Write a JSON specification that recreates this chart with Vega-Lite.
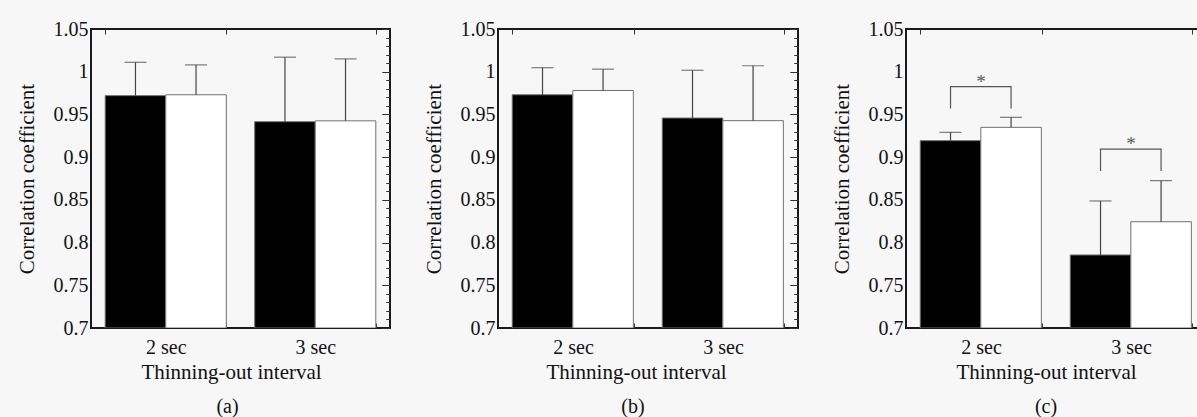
{
  "$schema": "https://vega.github.io/schema/vega-lite/v6.json",
  "background": "#f7f7f7",
  "padding": {"left": 15, "top": 18, "right": 0, "bottom": 0},
  "spacing": 30,
  "config": {
    "font": "Liberation Serif",
    "view": {"stroke": "#1a1a1a", "strokeWidth": 2, "fill": "#f7f7f7"},
    "axis": {"labelFont": "Liberation Serif", "titleFont": "Liberation Serif", "labelColor": "#111111", "titleColor": "#111111", "titleFontWeight": "normal", "labelFontSize": 20, "titleFontSize": 21, "domain": false, "grid": false, "tickColor": "#333333", "labelOverlap": false, "labelFlush": false, "labelBound": false},
    "title": {"font": "Liberation Serif", "fontSize": 20, "fontWeight": "normal", "color": "#111111"}
  },
  "datasets": {
    "bars": [
      {"panel": "a", "interval": "2 sec", "group": "G1", "mean": 0.972, "upper": 1.011},
      {"panel": "a", "interval": "2 sec", "group": "G2", "mean": 0.973, "upper": 1.008},
      {"panel": "a", "interval": "3 sec", "group": "G1", "mean": 0.9415, "upper": 1.017},
      {"panel": "a", "interval": "3 sec", "group": "G2", "mean": 0.9425, "upper": 1.015},
      {"panel": "b", "interval": "2 sec", "group": "G1", "mean": 0.973, "upper": 1.0047},
      {"panel": "b", "interval": "2 sec", "group": "G2", "mean": 0.978, "upper": 1.003},
      {"panel": "b", "interval": "3 sec", "group": "G1", "mean": 0.9458, "upper": 1.0017},
      {"panel": "b", "interval": "3 sec", "group": "G2", "mean": 0.9427, "upper": 1.007},
      {"panel": "c", "interval": "2 sec", "group": "G1", "mean": 0.9193, "upper": 0.929},
      {"panel": "c", "interval": "2 sec", "group": "G2", "mean": 0.9349, "upper": 0.9466},
      {"panel": "c", "interval": "3 sec", "group": "G1", "mean": 0.7855, "upper": 0.8487},
      {"panel": "c", "interval": "3 sec", "group": "G2", "mean": 0.8244, "upper": 0.8724}
    ],
    "brackets": [
      {"interval": "2 sec", "group": "G1", "y": 0.957, "k": 1},
      {"interval": "2 sec", "group": "G1", "y": 0.9825, "k": 2},
      {"interval": "2 sec", "group": "G2", "y": 0.9825, "k": 3},
      {"interval": "2 sec", "group": "G2", "y": 0.957, "k": 4},
      {"interval": "3 sec", "group": "G1", "y": 0.8838, "k": 1},
      {"interval": "3 sec", "group": "G1", "y": 0.9095, "k": 2},
      {"interval": "3 sec", "group": "G2", "y": 0.9095, "k": 3},
      {"interval": "3 sec", "group": "G2", "y": 0.8838, "k": 4}
    ],
    "stars": [
      {"interval": "2 sec", "y": 0.993, "label": "*"},
      {"interval": "3 sec", "y": 0.92, "label": "*"}
    ]
  },
  "hconcat": [
    {
      "width": 299, "height": 299,
      "title": {"text": "(a)", "orient": "bottom", "frame": "group", "dx": -13, "offset": 15},
      "resolve": {"axis": {"x": "independent", "y": "independent"}},
      "layer": [
        {
          "data": {"name": "bars"},
          "transform": [{"filter": "datum.panel === 'a'"}],
          "mark": {"type": "bar", "stroke": "#707070", "strokeWidth": 1, "clip": true},
          "encoding": {
            "x": {"field": "interval", "type": "nominal", "scale": {"paddingInner": 0.19, "paddingOuter": 0.095}, "axis": {"title": "Thinning-out interval", "labelAngle": 0, "tickBand": "extent", "tickSize": -5, "labelPadding": 14, "titlePadding": 4, "titleX": 140}},
            "xOffset": {"field": "group", "type": "nominal", "scale": {"paddingInner": 0, "paddingOuter": 0}},
            "y": {"field": "mean", "type": "quantitative", "stack": null, "scale": {"domain": [0.7, 1.05], "nice": false, "zero": false}, "axis": {"title": "Correlation coefficient", "values": [0.7, 0.75, 0.8, 0.85, 0.9, 0.95, 1, 1.05], "ticks": false, "labelPadding": 3, "format": ".2~f", "titlePadding": 16}},
            "color": {"field": "group", "type": "nominal", "scale": {"range": ["#000000", "#ffffff"]}, "legend": null}
          }
        },
        {
          "data": {"name": "bars"},
          "transform": [{"filter": "datum.panel === 'a'"}],
          "mark": {"type": "rule", "color": "#444444", "strokeWidth": 1.2},
          "encoding": {
            "x": {"field": "interval", "type": "nominal", "scale": {"paddingInner": 0.19, "paddingOuter": 0.095}, "axis": {"orient": "top", "title": null, "labels": false, "tickBand": "extent", "tickSize": -5}},
            "xOffset": {"field": "group", "type": "nominal", "scale": {"paddingInner": 0, "paddingOuter": 0}},
            "y": {"field": "mean", "type": "quantitative", "scale": {"domain": [0.7, 1.05], "nice": false, "zero": false}, "axis": {"title": null, "labels": false, "values": [0.7, 0.71, 0.72, 0.73, 0.74, 0.75, 0.76, 0.77, 0.78, 0.79, 0.8, 0.81, 0.82, 0.83, 0.84, 0.85, 0.86, 0.87, 0.88, 0.89, 0.9, 0.91, 0.92, 0.93, 0.94, 0.95, 0.96, 0.97, 0.98, 0.99, 1, 1.01, 1.02, 1.03, 1.04, 1.05], "tickSize": {"condition": {"test": "abs(round(datum.value*20) - datum.value*20) < 0.001", "value": -8}, "value": -4}}},
            "y2": {"field": "upper"}
          }
        },
        {
          "data": {"name": "bars"},
          "transform": [{"filter": "datum.panel === 'a'"}],
          "mark": {"type": "tick", "color": "#444444", "size": 22, "thickness": 1.2},
          "encoding": {
            "x": {"field": "interval", "type": "nominal", "scale": {"paddingInner": 0.19, "paddingOuter": 0.095}, "axis": null},
            "xOffset": {"field": "group", "type": "nominal", "scale": {"paddingInner": 0, "paddingOuter": 0}},
            "y": {"field": "upper", "type": "quantitative", "scale": {"domain": [0.7, 1.05], "nice": false, "zero": false}, "axis": {"orient": "right", "title": null, "labels": false, "values": [0.7, 0.71, 0.72, 0.73, 0.74, 0.75, 0.76, 0.77, 0.78, 0.79, 0.8, 0.81, 0.82, 0.83, 0.84, 0.85, 0.86, 0.87, 0.88, 0.89, 0.9, 0.91, 0.92, 0.93, 0.94, 0.95, 0.96, 0.97, 0.98, 0.99, 1, 1.01, 1.02, 1.03, 1.04, 1.05], "tickSize": {"condition": {"test": "abs(round(datum.value*20) - datum.value*20) < 0.001", "value": -8}, "value": -4}}}
          }
        }
      ]
    },
    {
      "width": 300, "height": 299,
      "title": {"text": "(b)", "orient": "bottom", "frame": "group", "dx": -15, "offset": 15},
      "resolve": {"axis": {"x": "independent", "y": "independent"}},
      "layer": [
        {
          "data": {"name": "bars"},
          "transform": [{"filter": "datum.panel === 'b'"}],
          "mark": {"type": "bar", "stroke": "#707070", "strokeWidth": 1, "clip": true},
          "encoding": {
            "x": {"field": "interval", "type": "nominal", "scale": {"paddingInner": 0.19, "paddingOuter": 0.095}, "axis": {"title": "Thinning-out interval", "labelAngle": 0, "tickBand": "extent", "tickSize": -5, "labelPadding": 14, "titlePadding": 4, "titleX": 138}},
            "xOffset": {"field": "group", "type": "nominal", "scale": {"paddingInner": 0, "paddingOuter": 0}},
            "y": {"field": "mean", "type": "quantitative", "stack": null, "scale": {"domain": [0.7, 1.05], "nice": false, "zero": false}, "axis": {"title": "Correlation coefficient", "values": [0.7, 0.75, 0.8, 0.85, 0.9, 0.95, 1, 1.05], "ticks": false, "labelPadding": 3, "format": ".2~f", "titlePadding": 16}},
            "color": {"field": "group", "type": "nominal", "scale": {"range": ["#000000", "#ffffff"]}, "legend": null}
          }
        },
        {
          "data": {"name": "bars"},
          "transform": [{"filter": "datum.panel === 'b'"}],
          "mark": {"type": "rule", "color": "#444444", "strokeWidth": 1.2},
          "encoding": {
            "x": {"field": "interval", "type": "nominal", "scale": {"paddingInner": 0.19, "paddingOuter": 0.095}, "axis": {"orient": "top", "title": null, "labels": false, "tickBand": "extent", "tickSize": -5}},
            "xOffset": {"field": "group", "type": "nominal", "scale": {"paddingInner": 0, "paddingOuter": 0}},
            "y": {"field": "mean", "type": "quantitative", "scale": {"domain": [0.7, 1.05], "nice": false, "zero": false}, "axis": {"title": null, "labels": false, "values": [0.7, 0.71, 0.72, 0.73, 0.74, 0.75, 0.76, 0.77, 0.78, 0.79, 0.8, 0.81, 0.82, 0.83, 0.84, 0.85, 0.86, 0.87, 0.88, 0.89, 0.9, 0.91, 0.92, 0.93, 0.94, 0.95, 0.96, 0.97, 0.98, 0.99, 1, 1.01, 1.02, 1.03, 1.04, 1.05], "tickSize": {"condition": {"test": "abs(round(datum.value*20) - datum.value*20) < 0.001", "value": -8}, "value": -4}}},
            "y2": {"field": "upper"}
          }
        },
        {
          "data": {"name": "bars"},
          "transform": [{"filter": "datum.panel === 'b'"}],
          "mark": {"type": "tick", "color": "#444444", "size": 22, "thickness": 1.2},
          "encoding": {
            "x": {"field": "interval", "type": "nominal", "scale": {"paddingInner": 0.19, "paddingOuter": 0.095}, "axis": null},
            "xOffset": {"field": "group", "type": "nominal", "scale": {"paddingInner": 0, "paddingOuter": 0}},
            "y": {"field": "upper", "type": "quantitative", "scale": {"domain": [0.7, 1.05], "nice": false, "zero": false}, "axis": {"orient": "right", "title": null, "labels": false, "values": [0.7, 0.71, 0.72, 0.73, 0.74, 0.75, 0.76, 0.77, 0.78, 0.79, 0.8, 0.81, 0.82, 0.83, 0.84, 0.85, 0.86, 0.87, 0.88, 0.89, 0.9, 0.91, 0.92, 0.93, 0.94, 0.95, 0.96, 0.97, 0.98, 0.99, 1, 1.01, 1.02, 1.03, 1.04, 1.05], "tickSize": {"condition": {"test": "abs(round(datum.value*20) - datum.value*20) < 0.001", "value": -8}, "value": -4}}}
          }
        }
      ]
    },
    {
      "width": 300, "height": 299,
      "title": {"text": "(c)", "orient": "bottom", "frame": "group", "dx": -10, "offset": 15},
      "resolve": {"axis": {"x": "independent", "y": "independent"}},
      "layer": [
        {
          "data": {"name": "bars"},
          "transform": [{"filter": "datum.panel === 'c'"}],
          "mark": {"type": "bar", "stroke": "#707070", "strokeWidth": 1, "clip": true},
          "encoding": {
            "x": {"field": "interval", "type": "nominal", "scale": {"paddingInner": 0.19, "paddingOuter": 0.095}, "axis": {"title": "Thinning-out interval", "labelAngle": 0, "tickBand": "extent", "tickSize": -5, "labelPadding": 14, "titlePadding": 4, "titleX": 140}},
            "xOffset": {"field": "group", "type": "nominal", "scale": {"paddingInner": 0, "paddingOuter": 0}},
            "y": {"field": "mean", "type": "quantitative", "stack": null, "scale": {"domain": [0.7, 1.05], "nice": false, "zero": false}, "axis": {"title": "Correlation coefficient", "values": [0.7, 0.75, 0.8, 0.85, 0.9, 0.95, 1, 1.05], "ticks": false, "labelPadding": 3, "format": ".2~f", "titlePadding": 16}},
            "color": {"field": "group", "type": "nominal", "scale": {"range": ["#000000", "#ffffff"]}, "legend": null}
          }
        },
        {
          "data": {"name": "bars"},
          "transform": [{"filter": "datum.panel === 'c'"}],
          "mark": {"type": "rule", "color": "#444444", "strokeWidth": 1.2},
          "encoding": {
            "x": {"field": "interval", "type": "nominal", "scale": {"paddingInner": 0.19, "paddingOuter": 0.095}, "axis": {"orient": "top", "title": null, "labels": false, "tickBand": "extent", "tickSize": -5}},
            "xOffset": {"field": "group", "type": "nominal", "scale": {"paddingInner": 0, "paddingOuter": 0}},
            "y": {"field": "mean", "type": "quantitative", "scale": {"domain": [0.7, 1.05], "nice": false, "zero": false}, "axis": {"title": null, "labels": false, "values": [0.7, 0.71, 0.72, 0.73, 0.74, 0.75, 0.76, 0.77, 0.78, 0.79, 0.8, 0.81, 0.82, 0.83, 0.84, 0.85, 0.86, 0.87, 0.88, 0.89, 0.9, 0.91, 0.92, 0.93, 0.94, 0.95, 0.96, 0.97, 0.98, 0.99, 1, 1.01, 1.02, 1.03, 1.04, 1.05], "tickSize": {"condition": {"test": "abs(round(datum.value*20) - datum.value*20) < 0.001", "value": -8}, "value": -4}}},
            "y2": {"field": "upper"}
          }
        },
        {
          "data": {"name": "bars"},
          "transform": [{"filter": "datum.panel === 'c'"}],
          "mark": {"type": "tick", "color": "#444444", "size": 22, "thickness": 1.2},
          "encoding": {
            "x": {"field": "interval", "type": "nominal", "scale": {"paddingInner": 0.19, "paddingOuter": 0.095}, "axis": null},
            "xOffset": {"field": "group", "type": "nominal", "scale": {"paddingInner": 0, "paddingOuter": 0}},
            "y": {"field": "upper", "type": "quantitative", "scale": {"domain": [0.7, 1.05], "nice": false, "zero": false}, "axis": {"orient": "right", "title": null, "labels": false, "values": [0.7, 0.71, 0.72, 0.73, 0.74, 0.75, 0.76, 0.77, 0.78, 0.79, 0.8, 0.81, 0.82, 0.83, 0.84, 0.85, 0.86, 0.87, 0.88, 0.89, 0.9, 0.91, 0.92, 0.93, 0.94, 0.95, 0.96, 0.97, 0.98, 0.99, 1, 1.01, 1.02, 1.03, 1.04, 1.05], "tickSize": {"condition": {"test": "abs(round(datum.value*20) - datum.value*20) < 0.001", "value": -8}, "value": -4}}}
          }
        },
        {
          "data": {"name": "brackets"},
          "mark": {"type": "line", "color": "#555555", "strokeWidth": 1.2},
          "encoding": {
            "x": {"field": "interval", "type": "nominal", "scale": {"paddingInner": 0.19, "paddingOuter": 0.095}, "axis": null},
            "xOffset": {"field": "group", "type": "nominal", "scale": {"paddingInner": 0, "paddingOuter": 0}},
            "y": {"field": "y", "type": "quantitative", "scale": {"domain": [0.7, 1.05], "nice": false, "zero": false}, "axis": null},
            "detail": {"field": "interval"},
            "order": {"field": "k", "type": "quantitative"}
          }
        },
        {
          "data": {"name": "stars"},
          "mark": {"type": "text", "color": "#555555", "fontSize": 19, "baseline": "middle", "dy": 4, "font": "Liberation Serif"},
          "encoding": {
            "x": {"field": "interval", "type": "nominal", "scale": {"paddingInner": 0.19, "paddingOuter": 0.095}, "axis": null},
            "y": {"field": "y", "type": "quantitative", "scale": {"domain": [0.7, 1.05], "nice": false, "zero": false}, "axis": null},
            "text": {"field": "label"}
          }
        }
      ]
    }
  ]
}
